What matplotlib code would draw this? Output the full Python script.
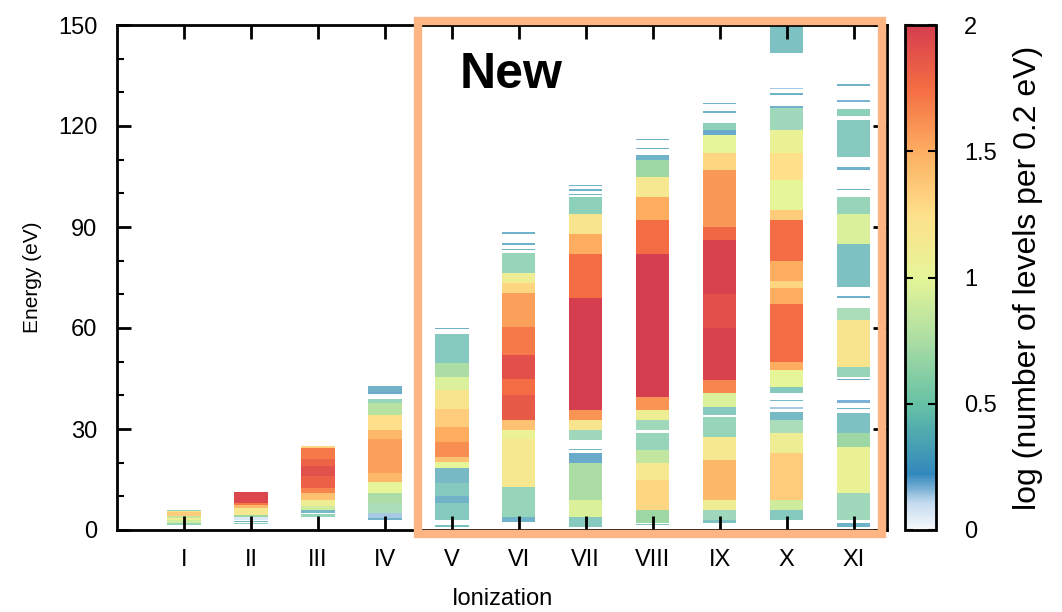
import matplotlib
matplotlib.use("Agg")
import matplotlib.pyplot as plt
from matplotlib.colors import LinearSegmentedColormap, Normalize
from matplotlib.cm import ScalarMappable
from matplotlib.patches import Rectangle
from matplotlib.ticker import MultipleLocator

plt.rcParams['font.family'] = ['Liberation Sans', 'DejaVu Sans']

ions = ["I", "II", "III", "IV", "V", "VI", "VII", "VIII", "IX", "X", "XI"]

# each band: (energy low, energy high, log number of levels per 0.2 eV)
ion_I = [(1.5, 2.0, 0.55), (2.0, 3.0, 0.9), (3.0, 3.6, 1.1), (3.6, 4.3, 0.85),
         (4.3, 5.2, 1.35), (5.2, 5.5, 1.2), (5.5, 5.8, 0.5)]
ion_II = [(1.7, 2.1, 0.5), (2.3, 2.8, 0.3), (3.0, 4.0, 0.08), (4.0, 4.5, 0.7),
          (4.5, 6.4, 1.15), (6.4, 7.3, 1.45), (7.3, 8.1, 1.7), (8.1, 11.3, 1.95)]
ion_III = [(4.0, 4.8, 0.55), (5.0, 5.9, 0.35), (5.9, 7.0, 0.9), (7.0, 8.9, 1.1),
           (8.9, 10.9, 1.4), (10.9, 12.5, 1.65), (12.5, 16.0, 1.82),
           (16.0, 19.0, 1.9), (19.0, 21.0, 1.8),
           (21.0, 24.3, 1.7), (24.3, 24.9, 1.3)]
ion_IV = [(3.0, 3.5, 0.3), (3.5, 5.0, 0.15), (5.0, 8.0, 0.65), (8.0, 10.9, 0.75),
          (10.9, 14.4, 1.0), (14.4, 17.0, 1.45), (17.0, 27.0, 1.55),
          (27.0, 29.7, 1.45), (29.7, 34.1, 1.25), (34.1, 37.6, 0.8),
          (37.6, 38.8, 0.55), (40.5, 40.9, 0.25), (41.0, 42.8, 0.3)]
ion_V = [(1.0, 1.4, 0.4), (3.0, 8.0, 0.45), (8.0, 10.0, 0.3), (10.0, 14.0, 0.45),
         (14.0, 18.4, 0.35), (18.4, 20.3, 1.0), (20.3, 21.7, 1.4),
         (21.7, 26.0, 1.62), (26.0, 30.6, 1.5), (30.6, 36.0, 1.35),
         (36.0, 41.6, 1.2), (41.6, 45.5, 0.95), (45.5, 49.5, 0.75),
         (49.5, 58.1, 0.45), (59.7, 60.0, 0.3)]
ion_VI = [(2.5, 4.0, 0.3), (4.0, 12.9, 0.55), (12.9, 27.0, 1.15), (27.0, 29.7, 1.05),
          (29.7, 32.6, 1.4), (32.6, 40.0, 1.85), (40.0, 45.0, 1.75),
          (45.0, 52.0, 1.9), (52.0, 60.3, 1.7), (60.3, 70.3, 1.55),
          (70.3, 73.5, 1.3), (73.5, 76.3, 1.1), (76.3, 82.2, 0.55),
          (83.2, 83.6, 0.3), (84.7, 85.1, 0.3), (88.0, 88.4, 0.3)]
ion_VII = [(0.9, 3.9, 0.45), (3.9, 8.9, 0.95), (8.9, 19.9, 0.75), (19.9, 22.8, 0.25),
           (23.8, 24.2, 0.35), (26.7, 29.7, 0.6), (29.7, 32.7, 1.2),
           (32.7, 35.6, 1.6), (35.6, 69.0, 2.0), (69.0, 82.0, 1.75),
           (82.0, 88.0, 1.5), (88.0, 94.0, 1.2), (94.0, 99.0, 0.5),
           (99.5, 99.9, 0.3), (100.8, 101.2, 0.3), (102.2, 102.6, 0.3)]
ion_VIII = [(1.4, 1.8, 0.4), (2.1, 5.9, 0.7), (5.9, 14.8, 1.3), (14.8, 19.9, 1.15),
            (19.9, 23.8, 0.85), (23.8, 28.8, 0.55), (29.7, 32.7, 0.6),
            (32.7, 35.6, 1.1), (35.6, 39.5, 1.6), (39.5, 82.0, 2.0),
            (82.0, 92.0, 1.75), (92.0, 99.0, 1.5), (99.0, 105.0, 1.15),
            (105.0, 110.0, 0.7), (110.0, 111.4, 0.3), (113.1, 113.5, 0.3),
            (115.8, 116.2, 0.3)]
ion_IX = [(2.2, 2.9, 0.4), (2.9, 5.9, 0.6), (5.9, 8.9, 1.1), (8.9, 20.8, 1.45),
          (20.8, 27.7, 1.15), (27.7, 33.6, 0.55), (34.2, 36.6, 0.45),
          (36.6, 40.6, 0.95), (40.6, 44.5, 1.65), (44.5, 60.0, 1.97),
          (60.0, 70.0, 1.9), (70.0, 86.0, 1.97), (86.0, 90.0, 1.78),
          (90.0, 107.0, 1.58), (107.0, 112.0, 1.3), (112.0, 117.3, 1.0),
          (117.3, 118.8, 0.25), (118.8, 121.0, 0.5), (124.0, 124.4, 0.3),
          (126.5, 126.9, 0.3)]
ion_X = [(3.0, 5.9, 0.45), (5.9, 8.9, 0.9), (8.9, 22.8, 1.35), (22.8, 28.7, 1.1),
         (28.7, 32.7, 0.65), (32.7, 35.0, 0.35), (36.0, 36.4, 0.15),
         (38.3, 38.7, 0.35), (40.6, 42.5, 0.45), (42.5, 47.5, 1.0),
         (47.5, 50.0, 1.5), (50.0, 67.0, 1.75), (67.0, 72.0, 1.5),
         (72.0, 74.0, 1.3), (74.0, 80.0, 1.5), (80.0, 92.0, 1.75),
         (92.0, 95.0, 1.35), (95.0, 104.0, 1.0), (104.0, 112.0, 1.25),
         (112.0, 118.8, 1.05), (118.8, 125.3, 0.6), (125.4, 125.8, 0.3),
         (129.3, 129.7, 0.3), (131.0, 131.4, 0.15), (141.6, 150.0, 0.4)]
ion_XI = [(1.0, 2.0, 0.3), (3.0, 10.9, 0.6), (10.9, 24.8, 1.05), (24.8, 28.8, 0.7),
          (28.8, 34.7, 0.4), (35.8, 36.2, 0.3), (37.6, 38.6, 0.2),
          (44.6, 45.0, 0.25), (45.5, 48.4, 0.55), (48.4, 62.4, 1.2),
          (62.4, 65.9, 0.65), (68.8, 69.5, 0.3), (72.2, 85.0, 0.4),
          (85.0, 94.0, 0.95), (94.0, 99.0, 0.55), (101.0, 101.4, 0.3),
          (107.0, 107.7, 0.3), (110.8, 121.8, 0.45), (123.0, 125.0, 0.5),
          (127.2, 127.6, 0.2), (132.0, 132.4, 0.3)]

bands = [ion_I, ion_II, ion_III, ion_IV, ion_V, ion_VI, ion_VII, ion_VIII,
         ion_IX, ion_X, ion_XI]

cmap = LinearSegmentedColormap.from_list("levels", [
    (0.0, '#f4f8fb'), (0.05, '#c6dbef'), (0.11, '#3288bd'), (0.25, '#66c2a5'),
    (0.375, '#abdda4'), (0.5, '#e6f598'), (0.625, '#fee08b'), (0.75, '#fdae61'),
    (0.875, '#f46d43'), (1.0, '#d53e4f')])
norm = Normalize(0, 2)

fig = plt.figure(figsize=(10.62, 6.12), dpi=100)
ax = fig.add_axes([117/1062, 1-530/612, 770/1062, 505/612])

for i, ion in enumerate(bands):
    for lo, hi, v in ion:
        # sparse levels leave white gaps between lines, so they look paler
        a = 0.75 if v < 0.7 else 1.0
        ax.bar(i + 1, hi - lo, bottom=lo, width=0.5, color=cmap(norm(v)),
               alpha=a, linewidth=0)

ax.set_xlim(0, 11.5)
ax.set_ylim(0, 150)
ax.set_xticks(range(1, 12))
ax.set_xticklabels(ions)
ax.set_yticks(range(0, 151, 30))
ax.yaxis.set_minor_locator(MultipleLocator(10))
ax.tick_params(which='major', direction='in', length=10, width=2,
               top=True, right=True, labelsize=17, pad=14)
ax.tick_params(which='minor', direction='in', length=5, width=1.5,
               left=True, right=False)
for s in ax.spines.values():
    s.set_linewidth(2)
ax.set_xlabel('Ionization', fontsize=17, labelpad=12)
ax.set_ylabel('Energy (eV)', fontsize=15, labelpad=12)

# highlight box for new data
fig.patches.append(Rectangle((418/1062, 1-534/612), 464/1062, 513/612,
                             transform=fig.transFigure, fill=False,
                             edgecolor='#fdb584', linewidth=6, zorder=10))
fig.text(460/1062, 1-88/612, 'New', fontsize=36, fontweight='bold',
         va='baseline', ha='left')

cax = fig.add_axes([905/1062, 1-530/612, 31/1062, 505/612])
cb = fig.colorbar(ScalarMappable(norm=norm, cmap=cmap), cax=cax)
cb.set_ticks([0, 0.5, 1, 1.5, 2])
cb.set_ticklabels(['0', '0.5', '1', '1.5', '2'])
cax.tick_params(direction='in', length=6, width=1.5, left=True, right=True,
                labelsize=17, pad=20)
cb.outline.set_linewidth(2)
cb.set_label('log (number of levels per 0.2 eV)', fontsize=23, labelpad=12)

fig.savefig('out.png', dpi=100)
